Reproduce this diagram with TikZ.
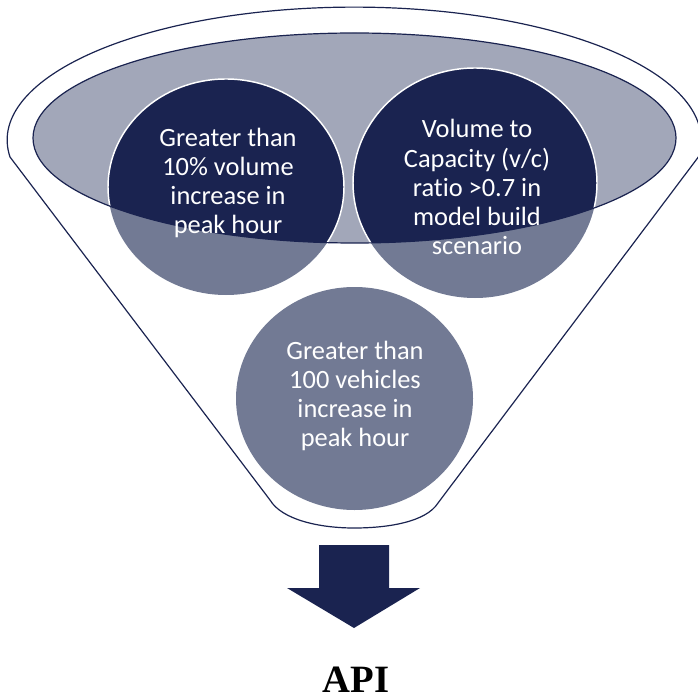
\documentclass[tikz,border=0pt]{standalone}
\usepackage{fontspec}
\setmainfont{Liberation Serif}
\newfontfamily\carlito[Ligatures=NoCommon]{Carlito}
\begin{document}
\begin{tikzpicture}[x=0.75pt,y=-0.75pt]
\definecolor{navy}{RGB}{26,35,80}
\definecolor{lightfill}{RGB}{162,167,185}
\definecolor{midfill}{RGB}{114,122,148}
\tikzset{
  outline/.style={draw=navy,line width=0.9pt},
  circtext/.style={text=white,align=center,font=\carlito\fontsize{19.8}{21.8}\selectfont},
}
\useasboundingbox (0,0) rectangle (697,698);
% funnel outline
\coordinate (fl) at (10,157);
\coordinate (bl) at (270,500);
\coordinate (br) at (438,503);
\coordinate (bm) at (354,528);
\draw[outline] (fl) arc[start angle=172.7,end angle=367.3,x radius=347,y radius=133]
  -- (br) .. controls (426,522) and (388,528) .. (bm)
  .. controls (320,528) and (282,520) .. (bl) -- cycle;
% inner ellipse
\fill[lightfill] (354.5,138) ellipse[x radius=321.5,y radius=105];
% circles
\fill[midfill] (226,187) ellipse[x radius=118,y radius=108];
\fill[midfill] (475,183) ellipse[x radius=122,y radius=115];
\fill[midfill] (354.5,398.5) ellipse[x radius=118.5,y radius=111.5];
\begin{scope}
  \clip (354.5,138) ellipse[x radius=321.5,y radius=105];
  \fill[navy] (226,187) ellipse[x radius=118,y radius=108];
  \fill[navy] (475,183) ellipse[x radius=122,y radius=115];
  \draw[white,line width=1.1pt] (226,187) ellipse[x radius=118,y radius=108];
  \draw[white,line width=1.1pt] (475,183) ellipse[x radius=122,y radius=115];
\end{scope}
\draw[outline] (354.5,138) ellipse[x radius=321.5,y radius=105];
% texts
\node[circtext] (c1) at (228,183) {Greater than\\10\% volume\\increase in\\peak hour};
\node[circtext] (c2) at (477,187) {Volume to\\Capacity (v/c)\\ratio >0.7 in\\model build\\scenario};
\node[circtext] (c3) at (355,396) {Greater than\\100 vehicles\\increase in\\peak hour};
% arrow
\fill[navy] (319,545) -- (389,545) -- (389,588) -- (420,588) -- (354,628)
  -- (287,588) -- (319,588) -- cycle;
\node[anchor=base,inner sep=0pt,font=\bfseries\fontsize{29}{34}\selectfont,text=black] (api) at (356,692) {API};
\end{tikzpicture}
\end{document}
